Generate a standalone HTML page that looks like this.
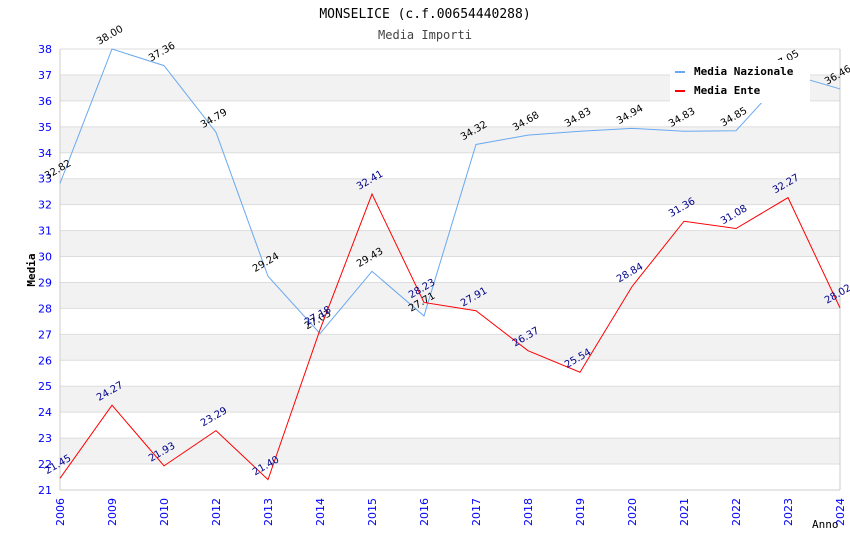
<!DOCTYPE html>
<html><head><meta charset="utf-8"><style>
body{margin:0;background:#fff}
svg{display:block;font-family:"DejaVu Sans","Liberation Sans",sans-serif}
</style></head><body>
<svg id="c" width="850" height="550">
<text x="425" y="18" text-anchor="middle" font-family="DejaVu Sans Mono,Liberation Mono,monospace" font-size="13">MONSELICE (c.f.00654440288)</text>
<text x="425" y="39" text-anchor="middle" font-family="DejaVu Sans Mono,Liberation Mono,monospace" font-size="12" fill="#444">Media Importi</text>
<g id="grid"></g><g id="axes"></g><g id="series"></g>
<text x="35" y="270" transform="rotate(-90 35 270)" text-anchor="middle" font-family="DejaVu Sans Mono,monospace" font-size="11" font-weight="bold">Media</text>
<text x="812" y="528" font-family="DejaVu Sans Mono,monospace" font-size="11">Anno</text>
<g>
<rect x="670" y="60" width="140" height="43" fill="#fff"/>
<g><rect x="675" y="71" width="10" height="2" fill="#6aa9f0"/><text x="694" y="75" font-family="DejaVu Sans Mono,monospace" font-size="11" font-weight="bold">Media Nazionale</text></g>
<g><rect x="675" y="90" width="10" height="2" fill="#f00"/><text x="694" y="94" font-family="DejaVu Sans Mono,monospace" font-size="11" font-weight="bold">Media Ente</text></g>
</g>
</svg>
<script>
const categories=["2006","2009","2010","2012","2013","2014","2015","2016","2017","2018","2019","2020","2021","2022","2023","2024"];
const nazionale=[32.82,38.00,37.36,34.79,29.24,27.03,29.43,27.71,34.32,34.68,34.83,34.94,34.83,34.85,37.05,36.46];
const ente=[21.45,24.27,21.93,23.29,21.40,27.18,32.41,28.23,27.91,26.37,25.54,28.84,31.36,31.08,32.27,28.02];
const yTicks=[21,22,23,24,25,26,27,28,29,30,31,32,33,34,35,36,37,38];
const NS="http://www.w3.org/2000/svg";
const L=60,R=840,T=49,B=490,yMin=21,yMax=38;
const x=i=>L+i*(R-L)/(categories.length-1);
const y=v=>B-(v-yMin)*(B-T)/(yMax-yMin);
function mk(tag,attrs,parent){const e=document.createElementNS(NS,tag);for(const k in attrs)e.setAttribute(k,attrs[k]);parent.appendChild(e);return e;}
const grid=document.getElementById('grid'),axes=document.getElementById('axes'),ser=document.getElementById('series');
yTicks.forEach(v=>{
 if(v<yMax&&v%2===0){const r=mk('rect',{x:L,y:y(v+1),width:R-L,height:y(v)-y(v+1),fill:'#f2f2f2'},grid);
 
 }
 const l=mk('line',{x1:L,x2:R,y1:y(v),y2:y(v),stroke:'#ddd'},grid);
 
 
 const t=mk('text',{x:52,y:y(v)+4,'text-anchor':'end','font-size':11,fill:'#00f'},axes);t.textContent=v;
 
 
});
mk('line',{x1:L,x2:L,y1:T,y2:B,stroke:'#ccc'},axes);
mk('line',{x1:R,x2:R,y1:T,y2:B,stroke:'#ccc'},axes);
mk('line',{x1:L,x2:R,y1:B,y2:B,stroke:'#ccc'},axes);
categories.forEach((c,i)=>{
 const t=mk('text',{x:x(i)+4,y:B+8,transform:`rotate(-90 ${x(i)+4} ${B+8})`,'text-anchor':'end','font-size':11,fill:'#00f'},axes);t.textContent=c;
 
 
});
function series(data,color,lblColor,name){
 const p=mk('polyline',{points:data.map((v,i)=>x(i)+','+y(v)).join(' '),fill:'none',stroke:color,'stroke-width':1},ser);
 
 
 data.forEach((v,i)=>{
  const px=x(i)-13,py=y(v)-4;
  const t=mk('text',{x:px,y:py,transform:`rotate(-30 ${px} ${py})`,'font-size':10,fill:lblColor},ser);t.textContent=v.toFixed(2);
  
  
 });
}
series(nazionale,'#6aa9f0','#000','nazionale');
series(ente,'#f00','#00008b','ente');
</script>
</body></html>
